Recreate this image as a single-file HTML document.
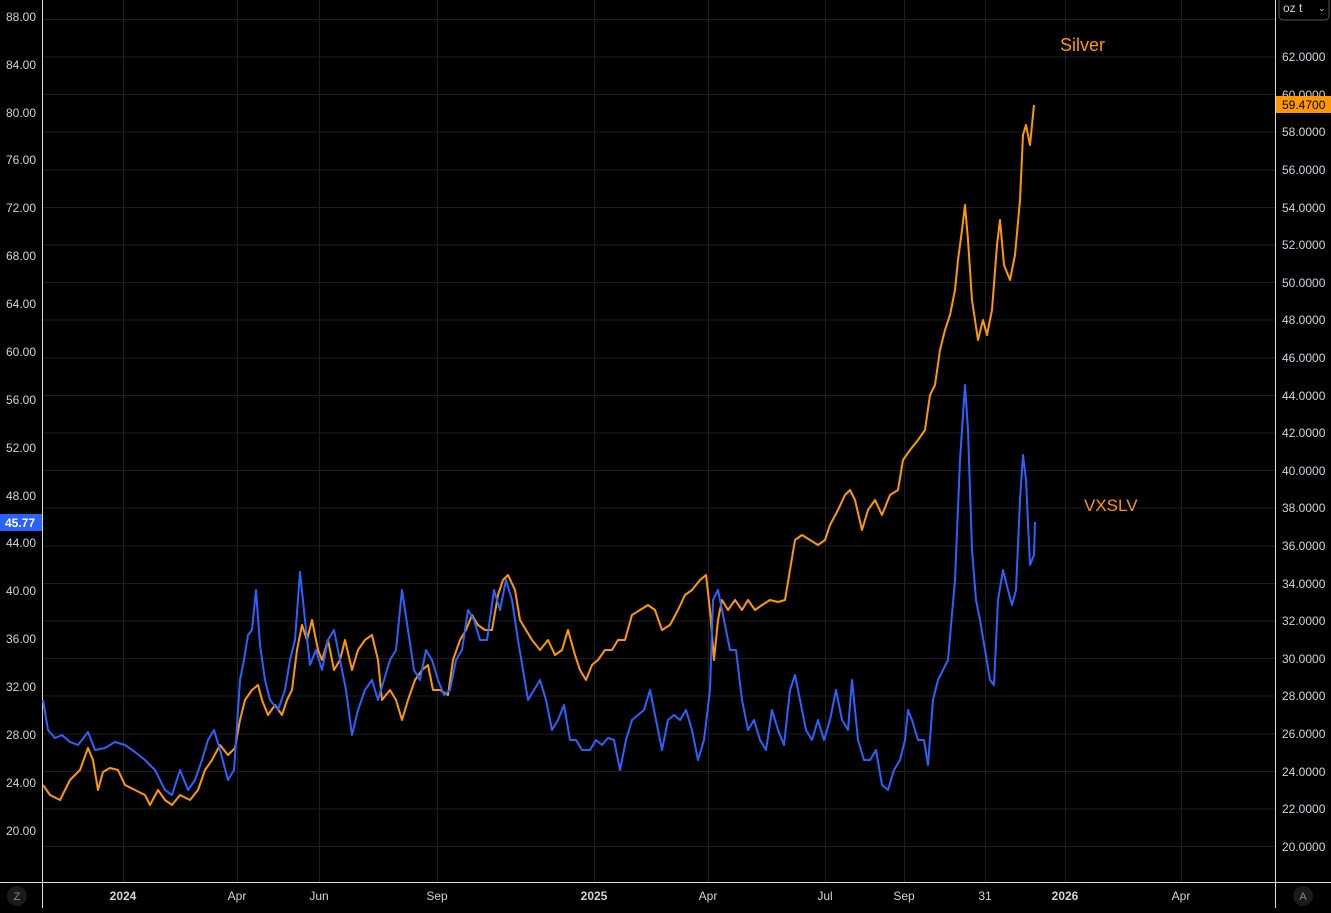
<!DOCTYPE html><html><head><style>body{margin:0;background:#000;overflow:hidden}</style></head><body>
<svg width="1331" height="908" viewBox="0 0 1331 908" xmlns="http://www.w3.org/2000/svg" font-family="Liberation Sans, sans-serif">
<rect width="1331" height="908" fill="#000"/>
<g stroke="#1e1e22" stroke-width="1">
<line x1="43" x2="1275" y1="19.5" y2="19.5"/><line x1="43" x2="1275" y1="57" y2="57"/><line x1="43" x2="1275" y1="94.5" y2="94.5"/><line x1="43" x2="1275" y1="132" y2="132"/><line x1="43" x2="1275" y1="170" y2="170"/><line x1="43" x2="1275" y1="207.5" y2="207.5"/><line x1="43" x2="1275" y1="245" y2="245"/><line x1="43" x2="1275" y1="282.5" y2="282.5"/><line x1="43" x2="1275" y1="320" y2="320"/><line x1="43" x2="1275" y1="358" y2="358"/><line x1="43" x2="1275" y1="395.5" y2="395.5"/><line x1="43" x2="1275" y1="433" y2="433"/><line x1="43" x2="1275" y1="470.5" y2="470.5"/><line x1="43" x2="1275" y1="508" y2="508"/><line x1="43" x2="1275" y1="546" y2="546"/><line x1="43" x2="1275" y1="583.5" y2="583.5"/><line x1="43" x2="1275" y1="621" y2="621"/><line x1="43" x2="1275" y1="658.5" y2="658.5"/><line x1="43" x2="1275" y1="696" y2="696"/><line x1="43" x2="1275" y1="734" y2="734"/><line x1="43" x2="1275" y1="771.5" y2="771.5"/><line x1="43" x2="1275" y1="809" y2="809"/><line x1="43" x2="1275" y1="846.5" y2="846.5"/>
<line y1="0" y2="882" x1="123.5" x2="123.5"/><line y1="0" y2="882" x1="237.5" x2="237.5"/><line y1="0" y2="882" x1="319.5" x2="319.5"/><line y1="0" y2="882" x1="437.5" x2="437.5"/><line y1="0" y2="882" x1="594.5" x2="594.5"/><line y1="0" y2="882" x1="708.5" x2="708.5"/><line y1="0" y2="882" x1="825.5" x2="825.5"/><line y1="0" y2="882" x1="904.5" x2="904.5"/><line y1="0" y2="882" x1="985.5" x2="985.5"/><line y1="0" y2="882" x1="1065.5" x2="1065.5"/><line y1="0" y2="882" x1="1181.5" x2="1181.5"/>
</g>
<g stroke="#ddd" stroke-width="1"><line x1="42.5" x2="42.5" y1="0" y2="908"/><line x1="1275.5" x2="1275.5" y1="0" y2="908"/><line x1="0" x2="1331" y1="882.5" y2="882.5"/></g>
<polyline fill="none" stroke="#ff9800" stroke-width="2" stroke-linejoin="round" points="43,785 50,795 60,800 70,780 80,770 88,748 93,760 98,790 103,772 110,768 118,770 125,785 135,790 145,795 150,805 158,790 165,800 172,805 180,795 190,800 198,790 205,770 212,760 220,745 228,755 235,748 240,720 245,700 252,690 258,685 262,700 268,715 275,705 282,715 287,700 292,690 297,650 302,625 307,640 312,620 318,650 322,660 328,640 334,670 340,660 345,640 352,670 358,650 365,640 372,635 378,660 382,700 390,690 396,700 402,720 408,700 415,680 422,670 428,665 433,690 440,690 448,695 453,660 460,640 466,630 472,615 478,625 485,630 492,630 498,595 503,580 508,575 515,590 520,620 526,630 532,640 540,650 548,640 555,655 562,650 568,630 575,655 580,670 586,680 592,665 598,660 605,650 612,650 618,640 625,640 632,615 640,610 648,605 655,610 662,630 670,625 678,610 685,595 692,590 700,580 706,575 710,610 714,660 718,620 722,600 728,610 735,600 742,610 748,600 755,610 762,605 770,600 778,602 785,600 790,570 795,540 802,535 810,540 818,545 825,540 830,525 838,510 845,495 850,490 855,500 862,530 868,510 875,500 882,515 890,495 898,490 903,460 910,450 918,440 925,430 930,395 935,385 940,350 945,330 950,315 955,290 958,260 962,230 965,205 968,240 972,300 978,340 983,320 987,335 992,310 997,245 1000,220 1004,265 1010,280 1015,255 1020,200 1023,135 1026,125 1030,145 1034,105"/>
<polyline fill="none" stroke="#2962ff" stroke-width="2" stroke-linejoin="round" points="43,700 48,730 55,738 62,735 70,742 78,745 88,732 95,750 105,748 115,742 125,745 135,752 145,760 155,770 165,790 172,795 180,770 188,790 195,780 202,760 208,740 214,730 220,750 228,780 234,770 240,680 244,660 248,635 252,630 256,590 260,645 265,680 270,700 278,710 285,690 290,660 295,640 300,572 305,620 310,665 316,650 322,670 328,640 334,630 340,660 346,690 352,735 358,710 365,690 372,680 378,700 384,680 390,660 396,650 402,590 408,630 414,670 420,680 426,650 432,660 438,680 444,695 450,690 456,660 462,650 468,610 474,620 480,640 487,640 494,590 500,610 506,580 512,600 518,640 523,670 528,700 534,690 540,680 546,700 552,730 558,720 564,705 570,740 576,740 582,750 590,750 596,740 602,745 608,738 614,740 620,770 626,740 632,720 638,715 644,710 650,690 656,720 662,750 668,720 674,715 680,720 686,710 692,730 698,760 704,740 710,690 713,600 718,590 724,620 730,650 736,650 742,700 748,730 754,720 760,740 766,750 772,710 778,730 784,745 790,690 795,675 800,700 806,730 812,740 818,720 824,740 830,720 836,690 842,720 848,730 852,680 858,740 864,760 870,760 876,750 882,785 888,790 894,770 900,760 905,740 908,710 912,720 918,740 924,740 928,765 933,700 938,680 943,670 948,660 955,580 960,460 965,385 968,430 972,550 976,600 980,620 985,650 990,680 994,685 998,600 1003,570 1008,590 1012,605 1016,590 1020,500 1023,455 1026,480 1030,565 1034,555 1035,522"/>
<g fill="#d1d4dc" font-size="12" text-anchor="end">
<text x="36" y="21">88.00</text><text x="36" y="69">84.00</text><text x="36" y="117">80.00</text><text x="36" y="164">76.00</text><text x="36" y="212">72.00</text><text x="36" y="260">68.00</text><text x="36" y="308">64.00</text><text x="36" y="356">60.00</text><text x="36" y="404">56.00</text><text x="36" y="452">52.00</text><text x="36" y="500">48.00</text><text x="36" y="547">44.00</text><text x="36" y="595">40.00</text><text x="36" y="643">36.00</text><text x="36" y="691">32.00</text><text x="36" y="739">28.00</text><text x="36" y="787">24.00</text><text x="36" y="835">20.00</text>
</g>
<g fill="#d1d4dc" font-size="12">
<text x="1282" y="61">62.0000</text><text x="1282" y="99">60.0000</text><text x="1282" y="136">58.0000</text><text x="1282" y="174">56.0000</text><text x="1282" y="212">54.0000</text><text x="1282" y="249">52.0000</text><text x="1282" y="287">50.0000</text><text x="1282" y="324">48.0000</text><text x="1282" y="362">46.0000</text><text x="1282" y="400">44.0000</text><text x="1282" y="437">42.0000</text><text x="1282" y="475">40.0000</text><text x="1282" y="512">38.0000</text><text x="1282" y="550">36.0000</text><text x="1282" y="588">34.0000</text><text x="1282" y="625">32.0000</text><text x="1282" y="663">30.0000</text><text x="1282" y="700">28.0000</text><text x="1282" y="738">26.0000</text><text x="1282" y="776">24.0000</text><text x="1282" y="813">22.0000</text><text x="1282" y="851">20.0000</text>
</g>
<rect x="1276" y="96" width="55" height="17" fill="#ff9800"/><text x="1282" y="109" font-size="12" fill="#000">59.4700</text>
<rect x="0" y="514" width="42" height="17" fill="#2962ff"/><text x="5" y="527" font-size="12" fill="#fff" font-weight="bold">45.77</text>
<rect x="1279" y="-4" width="50" height="24" rx="4" fill="none" stroke="#555"/><text x="1283" y="12" font-size="12" fill="#d1d4dc">oz t</text><text x="1318" y="11" font-size="9" fill="#d1d4dc">⌄</text>
<g fill="#d1d4dc" font-size="12" text-anchor="middle" font-weight="bold">
<text x="123" y="900">2024</text><text x="594" y="900">2025</text><text x="1065" y="900">2026</text>
</g>
<g fill="#d1d4dc" font-size="12" text-anchor="middle">
<text x="237" y="900">Apr</text><text x="319" y="900">Jun</text><text x="437" y="900">Sep</text><text x="708" y="900">Apr</text><text x="825" y="900">Jul</text><text x="904" y="900">Sep</text><text x="985" y="900">31</text><text x="1181" y="900">Apr</text>
</g>
<circle cx="17" cy="896" r="10" fill="#1a1a1a"/><text x="17" y="900" font-size="11" fill="#888" text-anchor="middle">Z</text>
<circle cx="1303" cy="896" r="10" fill="#1a1a1a"/><text x="1303" y="900" font-size="11" fill="#888" text-anchor="middle">A</text>
<text x="1060" y="51" font-size="18" fill="#ff9800">Silver</text>
<text x="1084" y="511" font-size="17" fill="#ff9800">VXSLV</text>
</svg></body></html>
